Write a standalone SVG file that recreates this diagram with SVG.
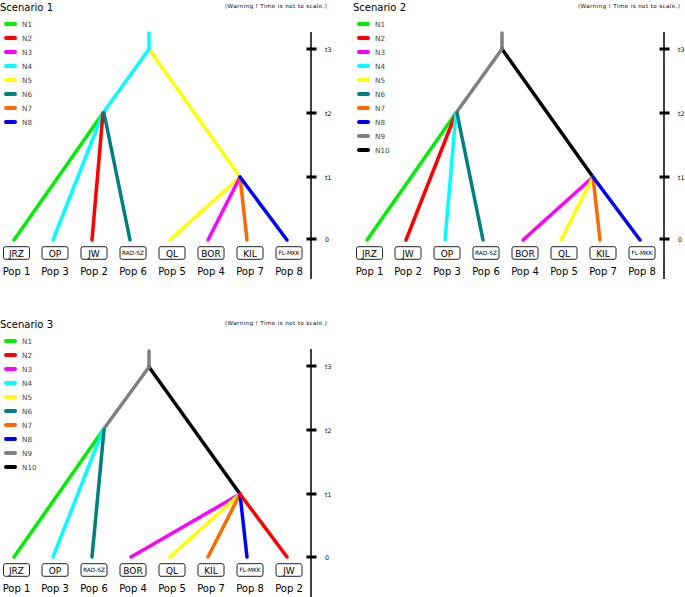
<svg xmlns="http://www.w3.org/2000/svg" width="685" height="597" viewBox="0 0 685 597">
<style>
text{font-family:"DejaVu Sans","Liberation Sans",sans-serif;}
.title{font-size:10px;fill:#000;}
.warn{font-size:5.6px;fill:#000;}
.leg{font-size:7.2px;fill:#444;}
.tick{font-size:6.3px;fill:#000;}
.pop{font-size:10px;fill:#000;text-anchor:middle;}
.bl{font-size:9px;fill:#000;text-anchor:middle;}
.bs{font-size:5.8px;fill:#000;text-anchor:middle;}
.box{fill:#fff;stroke:#222;stroke-width:1;}
.br{fill:none;stroke-width:3.5;stroke-linecap:round;}
.lg{stroke-width:4;stroke-linecap:round;}
.axis{stroke:#000;stroke-width:1.5;}
.tk{stroke:#000;stroke-width:3;}
.c1{stroke:#00ee00}.c2{stroke:#ff0000}.c3{stroke:#ff00ff}.c4{stroke:#00ffff}.c5{stroke:#ffff00}
.c6{stroke:#007f7f}.c7{stroke:#ff6a00}.c8{stroke:#0000ff}.c9{stroke:#808080}.c10{stroke:#000000}
</style>

<!-- Scenario 1 -->
<g id="scenario1">
  <text class="title" x="0" y="11">Scenario 1</text>
  <text class="warn" x="225" y="8" textLength="102">(Warning ! Time is not to scale.)</text>
  <g id="s1-legend">
    <line class="lg c1" x1="6" y1="24" x2="15" y2="24"/><text class="leg" x="22" y="27">N1</text>
    <line class="lg c2" x1="6" y1="38" x2="15" y2="38"/><text class="leg" x="22" y="41">N2</text>
    <line class="lg c3" x1="6" y1="52" x2="15" y2="52"/><text class="leg" x="22" y="55">N3</text>
    <line class="lg c4" x1="6" y1="66" x2="15" y2="66"/><text class="leg" x="22" y="69">N4</text>
    <line class="lg c5" x1="6" y1="80" x2="15" y2="80"/><text class="leg" x="22" y="83">N5</text>
    <line class="lg c6" x1="6" y1="94" x2="15" y2="94"/><text class="leg" x="22" y="97">N6</text>
    <line class="lg c7" x1="6" y1="108" x2="15" y2="108"/><text class="leg" x="22" y="111">N7</text>
    <line class="lg c8" x1="6" y1="122" x2="15" y2="122"/><text class="leg" x="22" y="125">N8</text>
  </g>
  <g id="s1-axis">
    <line class="axis" x1="311" y1="32" x2="311" y2="279"/>
    <line class="tk" x1="306.5" y1="49" x2="316.5" y2="49"/><text class="tick" x="325" y="51.5">t3</text>
    <line class="tk" x1="306.5" y1="113" x2="316.5" y2="113"/><text class="tick" x="325" y="115.5">t2</text>
    <line class="tk" x1="306.5" y1="177" x2="316.5" y2="177"/><text class="tick" x="325" y="179.5">t1</text>
    <line class="tk" x1="306.5" y1="239" x2="316.5" y2="239"/><text class="tick" x="325" y="241.5">0</text>
  </g>
  <g id="s1-connectors">
    <line class="br c4" x1="149" y1="33" x2="149" y2="49"/>
    <line class="br c5" x1="149" y1="49" x2="240" y2="177"/>
    <line class="br c4" x1="149" y1="49" x2="103" y2="113"/>
    <line class="br c1" x1="103" y1="113" x2="14" y2="240"/>
    <line class="br c4" x1="103" y1="113" x2="53" y2="240"/>
    <line class="br c2" x1="103" y1="113" x2="92" y2="240"/>
    <line class="br c6" x1="104" y1="113" x2="130" y2="240"/>
    <line class="br c5" x1="240" y1="177" x2="170" y2="240"/>
    <line class="br c3" x1="240" y1="177" x2="208" y2="240"/>
    <line class="br c7" x1="240" y1="177" x2="247" y2="240"/>
    <line class="br c8" x1="240" y1="177" x2="287" y2="240"/>
  </g>
  <g id="s1-JRZ"><rect class="box" x="3.5" y="246.7" width="26" height="12.6" rx="2"/><text class="bl" x="16.5" y="256.5">JRZ</text><text class="pop" x="16.5" y="275">Pop 1</text></g>
  <g id="s1-OP"><rect class="box" x="42" y="246.7" width="26" height="12.6" rx="2"/><text class="bl" x="55" y="256.5">OP</text><text class="pop" x="55" y="275">Pop 3</text></g>
  <g id="s1-JW"><rect class="box" x="81" y="246.7" width="26" height="12.6" rx="2"/><text class="bl" x="94" y="256.5">JW</text><text class="pop" x="94" y="275">Pop 2</text></g>
  <g id="s1-RADSZ"><rect class="box" x="120" y="246.7" width="26" height="12.6" rx="2"/><text class="bs" x="133" y="255.2">RAD-SZ</text><text class="pop" x="133" y="275">Pop 6</text></g>
  <g id="s1-QL"><rect class="box" x="159" y="246.7" width="26" height="12.6" rx="2"/><text class="bl" x="172" y="256.5">QL</text><text class="pop" x="172" y="275">Pop 5</text></g>
  <g id="s1-BOR"><rect class="box" x="198" y="246.7" width="26" height="12.6" rx="2"/><text class="bl" x="211" y="256.5">BOR</text><text class="pop" x="211" y="275">Pop 4</text></g>
  <g id="s1-KIL"><rect class="box" x="237" y="246.7" width="26" height="12.6" rx="2"/><text class="bl" x="250" y="256.5">KIL</text><text class="pop" x="250" y="275">Pop 7</text></g>
  <g id="s1-FLMKK"><rect class="box" x="276" y="246.7" width="26" height="12.6" rx="2"/><text class="bs" x="289" y="255.2">FL-MKK</text><text class="pop" x="289" y="275">Pop 8</text></g>
</g>

<!-- Scenario 2 -->
<g id="scenario2" transform="translate(353,0)">
  <text class="title" x="0" y="11">Scenario 2</text>
  <text class="warn" x="225" y="8" textLength="102">(Warning ! Time is not to scale.)</text>
  <g id="s2-legend">
    <line class="lg c1" x1="6" y1="24" x2="15" y2="24"/><text class="leg" x="22" y="27">N1</text>
    <line class="lg c2" x1="6" y1="38" x2="15" y2="38"/><text class="leg" x="22" y="41">N2</text>
    <line class="lg c3" x1="6" y1="52" x2="15" y2="52"/><text class="leg" x="22" y="55">N3</text>
    <line class="lg c4" x1="6" y1="66" x2="15" y2="66"/><text class="leg" x="22" y="69">N4</text>
    <line class="lg c5" x1="6" y1="80" x2="15" y2="80"/><text class="leg" x="22" y="83">N5</text>
    <line class="lg c6" x1="6" y1="94" x2="15" y2="94"/><text class="leg" x="22" y="97">N6</text>
    <line class="lg c7" x1="6" y1="108" x2="15" y2="108"/><text class="leg" x="22" y="111">N7</text>
    <line class="lg c8" x1="6" y1="122" x2="15" y2="122"/><text class="leg" x="22" y="125">N8</text>
    <line class="lg c9" x1="6" y1="136" x2="15" y2="136"/><text class="leg" x="22" y="139">N9</text>
    <line class="lg c10" x1="6" y1="150" x2="15" y2="150"/><text class="leg" x="22" y="153">N10</text>
  </g>
  <g id="s2-axis">
    <line class="axis" x1="311" y1="32" x2="311" y2="279"/>
    <line class="tk" x1="306.5" y1="49" x2="316.5" y2="49"/><text class="tick" x="325" y="51.5">t3</text>
    <line class="tk" x1="306.5" y1="113" x2="316.5" y2="113"/><text class="tick" x="325" y="115.5">t2</text>
    <line class="tk" x1="306.5" y1="177" x2="316.5" y2="177"/><text class="tick" x="325" y="179.5">t1</text>
    <line class="tk" x1="306.5" y1="239" x2="316.5" y2="239"/><text class="tick" x="325" y="241.5">0</text>
  </g>
  <g id="s2-connectors">
    <line class="br c9" x1="149" y1="33" x2="149" y2="49"/>
    <line class="br c10" x1="149" y1="49" x2="240" y2="177"/>
    <line class="br c9" x1="149" y1="49" x2="103" y2="113"/>
    <line class="br c1" x1="103" y1="113" x2="14" y2="240"/>
    <line class="br c2" x1="103" y1="113" x2="53" y2="240"/>
    <line class="br c4" x1="103" y1="113" x2="92" y2="240"/>
    <line class="br c6" x1="104" y1="113" x2="130" y2="240"/>
    <line class="br c3" x1="240" y1="177" x2="170" y2="240"/>
    <line class="br c5" x1="240" y1="177" x2="208" y2="240"/>
    <line class="br c7" x1="240" y1="177" x2="247" y2="240"/>
    <line class="br c8" x1="240" y1="177" x2="287" y2="240"/>
  </g>
  <g id="s2-JRZ"><rect class="box" x="3.5" y="246.7" width="26" height="12.6" rx="2"/><text class="bl" x="16.5" y="256.5">JRZ</text><text class="pop" x="16.5" y="275">Pop 1</text></g>
  <g id="s2-JW"><rect class="box" x="42" y="246.7" width="26" height="12.6" rx="2"/><text class="bl" x="55" y="256.5">JW</text><text class="pop" x="55" y="275">Pop 2</text></g>
  <g id="s2-OP"><rect class="box" x="81" y="246.7" width="26" height="12.6" rx="2"/><text class="bl" x="94" y="256.5">OP</text><text class="pop" x="94" y="275">Pop 3</text></g>
  <g id="s2-RADSZ"><rect class="box" x="120" y="246.7" width="26" height="12.6" rx="2"/><text class="bs" x="133" y="255.2">RAD-SZ</text><text class="pop" x="133" y="275">Pop 6</text></g>
  <g id="s2-BOR"><rect class="box" x="159" y="246.7" width="26" height="12.6" rx="2"/><text class="bl" x="172" y="256.5">BOR</text><text class="pop" x="172" y="275">Pop 4</text></g>
  <g id="s2-QL"><rect class="box" x="198" y="246.7" width="26" height="12.6" rx="2"/><text class="bl" x="211" y="256.5">QL</text><text class="pop" x="211" y="275">Pop 5</text></g>
  <g id="s2-KIL"><rect class="box" x="237" y="246.7" width="26" height="12.6" rx="2"/><text class="bl" x="250" y="256.5">KIL</text><text class="pop" x="250" y="275">Pop 7</text></g>
  <g id="s2-FLMKK"><rect class="box" x="276" y="246.7" width="26" height="12.6" rx="2"/><text class="bs" x="289" y="255.2">FL-MKK</text><text class="pop" x="289" y="275">Pop 8</text></g>
</g>

<!-- Scenario 3 -->
<g id="scenario3" transform="translate(0,317)">
  <text class="title" x="0" y="11">Scenario 3</text>
  <text class="warn" x="225" y="8" textLength="102">(Warning ! Time is not to scale.)</text>
  <g id="s3-legend">
    <line class="lg c1" x1="6" y1="24" x2="15" y2="24"/><text class="leg" x="22" y="27">N1</text>
    <line class="lg c2" x1="6" y1="38" x2="15" y2="38"/><text class="leg" x="22" y="41">N2</text>
    <line class="lg c3" x1="6" y1="52" x2="15" y2="52"/><text class="leg" x="22" y="55">N3</text>
    <line class="lg c4" x1="6" y1="66" x2="15" y2="66"/><text class="leg" x="22" y="69">N4</text>
    <line class="lg c5" x1="6" y1="80" x2="15" y2="80"/><text class="leg" x="22" y="83">N5</text>
    <line class="lg c6" x1="6" y1="94" x2="15" y2="94"/><text class="leg" x="22" y="97">N6</text>
    <line class="lg c7" x1="6" y1="108" x2="15" y2="108"/><text class="leg" x="22" y="111">N7</text>
    <line class="lg c8" x1="6" y1="122" x2="15" y2="122"/><text class="leg" x="22" y="125">N8</text>
    <line class="lg c9" x1="6" y1="136" x2="15" y2="136"/><text class="leg" x="22" y="139">N9</text>
    <line class="lg c10" x1="6" y1="150" x2="15" y2="150"/><text class="leg" x="22" y="153">N10</text>
  </g>
  <g id="s3-axis">
    <line class="axis" x1="311" y1="32" x2="311" y2="280"/>
    <line class="tk" x1="306.5" y1="49" x2="316.5" y2="49"/><text class="tick" x="325" y="51.5">t3</text>
    <line class="tk" x1="306.5" y1="113" x2="316.5" y2="113"/><text class="tick" x="325" y="115.5">t2</text>
    <line class="tk" x1="306.5" y1="177" x2="316.5" y2="177"/><text class="tick" x="325" y="179.5">t1</text>
    <line class="tk" x1="306.5" y1="240" x2="316.5" y2="240"/><text class="tick" x="325" y="242.5">0</text>
  </g>
  <g id="s3-connectors">
    <line class="br c9" x1="149" y1="34" x2="149" y2="50"/>
    <line class="br c10" x1="149" y1="50" x2="240" y2="177"/>
    <line class="br c9" x1="149" y1="50" x2="103" y2="113"/>
    <line class="br c1" x1="103" y1="113" x2="14" y2="240"/>
    <line class="br c4" x1="103" y1="113" x2="53" y2="240"/>
    <line class="br c6" x1="104" y1="113" x2="92" y2="240"/>
    <line class="br c3" x1="240" y1="177" x2="131" y2="240"/>
    <line class="br c5" x1="240" y1="177" x2="170" y2="240"/>
    <line class="br c7" x1="240" y1="177" x2="208" y2="240"/>
    <line class="br c8" x1="240" y1="177" x2="247" y2="240"/>
    <line class="br c2" x1="240" y1="177" x2="287" y2="240"/>
  </g>
  <g id="s3-JRZ"><rect class="box" x="3.5" y="246.7" width="26" height="12.6" rx="2"/><text class="bl" x="16.5" y="256.5">JRZ</text><text class="pop" x="16.5" y="275">Pop 1</text></g>
  <g id="s3-OP"><rect class="box" x="42" y="246.7" width="26" height="12.6" rx="2"/><text class="bl" x="55" y="256.5">OP</text><text class="pop" x="55" y="275">Pop 3</text></g>
  <g id="s3-RADSZ"><rect class="box" x="81" y="246.7" width="26" height="12.6" rx="2"/><text class="bs" x="94" y="255.2">RAD-SZ</text><text class="pop" x="94" y="275">Pop 6</text></g>
  <g id="s3-BOR"><rect class="box" x="120" y="246.7" width="26" height="12.6" rx="2"/><text class="bl" x="133" y="256.5">BOR</text><text class="pop" x="133" y="275">Pop 4</text></g>
  <g id="s3-QL"><rect class="box" x="159" y="246.7" width="26" height="12.6" rx="2"/><text class="bl" x="172" y="256.5">QL</text><text class="pop" x="172" y="275">Pop 5</text></g>
  <g id="s3-KIL"><rect class="box" x="198" y="246.7" width="26" height="12.6" rx="2"/><text class="bl" x="211" y="256.5">KIL</text><text class="pop" x="211" y="275">Pop 7</text></g>
  <g id="s3-FLMKK"><rect class="box" x="237" y="246.7" width="26" height="12.6" rx="2"/><text class="bs" x="250" y="255.2">FL-MKK</text><text class="pop" x="250" y="275">Pop 8</text></g>
  <g id="s3-JW"><rect class="box" x="276" y="246.7" width="26" height="12.6" rx="2"/><text class="bl" x="289" y="256.5">JW</text><text class="pop" x="289" y="275">Pop 2</text></g>
</g>
</svg>
